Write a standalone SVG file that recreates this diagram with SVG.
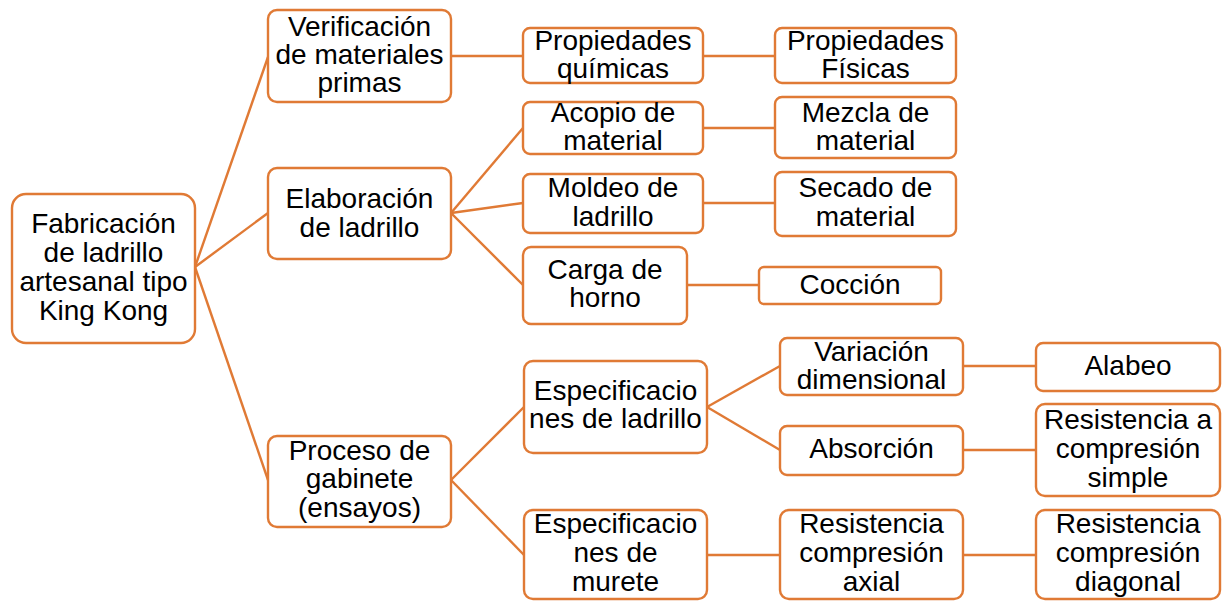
<svg xmlns="http://www.w3.org/2000/svg" width="1230" height="601" viewBox="0 0 1230 601">
<style>
.b{fill:#fff;stroke:#E07A35;stroke-width:2.4}
.c line{stroke:#E07A35;stroke-width:2.4}
text{font-family:"Liberation Sans",Arial,sans-serif;font-size:28px;fill:#000;text-anchor:middle}
</style>
<rect width="1230" height="601" fill="#fff"/>
<g class="c" id="connectors">
<line x1="195" y1="267" x2="268" y2="57"/>
<line x1="195" y1="267" x2="268" y2="213"/>
<line x1="195" y1="267" x2="268" y2="480"/>
<line x1="451" y1="56" x2="523" y2="56"/>
<line x1="703" y1="56" x2="775" y2="56"/>
<line x1="451" y1="213" x2="523" y2="128"/>
<line x1="451" y1="213" x2="523" y2="203"/>
<line x1="451" y1="213" x2="523" y2="285"/>
<line x1="703" y1="128" x2="775" y2="128"/>
<line x1="703" y1="203" x2="775" y2="203"/>
<line x1="687" y1="285" x2="759" y2="285"/>
<line x1="451" y1="480" x2="524" y2="407"/>
<line x1="451" y1="480" x2="524" y2="555"/>
<line x1="707" y1="407" x2="780" y2="366"/>
<line x1="707" y1="407" x2="780" y2="450"/>
<line x1="963" y1="366" x2="1036" y2="366"/>
<line x1="963" y1="450" x2="1036" y2="450"/>
<line x1="707" y1="555" x2="780" y2="555"/>
<line x1="963" y1="555" x2="1036" y2="555"/>
</g>
<g id="root"><rect class="b" x="12" y="194" width="183" height="149" rx="14"/>
<text x="103.5" y="233">Fabricación</text><text x="103.5" y="262">de ladrillo</text><text x="103.5" y="291">artesanal tipo</text><text x="103.5" y="320">King Kong</text></g>
<g id="verificacion"><rect class="b" x="268" y="10" width="183" height="92" rx="9"/>
<text x="359.5" y="36">Verificación</text><text x="359.5" y="64">de materiales</text><text x="359.5" y="92">primas</text></g>
<g id="elaboracion"><rect class="b" x="268" y="168" width="183" height="91" rx="9"/>
<text x="359.5" y="208">Elaboración</text><text x="359.5" y="237">de ladrillo</text></g>
<g id="proceso"><rect class="b" x="268" y="436" width="183" height="91" rx="9"/>
<text x="359.5" y="460">Proceso de</text><text x="359.5" y="488">gabinete</text><text x="359.5" y="517">(ensayos)</text></g>
<g id="prop-quimicas"><rect class="b" x="523" y="28" width="180" height="55" rx="7"/>
<text x="613" y="50">Propiedades</text><text x="613" y="78">químicas</text></g>
<g id="prop-fisicas"><rect class="b" x="775" y="28" width="181" height="55" rx="7"/>
<text x="865.5" y="50">Propiedades</text><text x="865.5" y="78">Físicas</text></g>
<g id="acopio"><rect class="b" x="523" y="102" width="180" height="52" rx="7"/>
<text x="613" y="122">Acopio de</text><text x="613" y="150">material</text></g>
<g id="mezcla"><rect class="b" x="775" y="97" width="181" height="61" rx="7"/>
<text x="865.5" y="122">Mezcla de</text><text x="865.5" y="150">material</text></g>
<g id="moldeo"><rect class="b" x="523" y="174" width="180" height="59" rx="7"/>
<text x="613" y="197">Moldeo de</text><text x="613" y="226">ladrillo</text></g>
<g id="secado"><rect class="b" x="775" y="172" width="181" height="64" rx="7"/>
<text x="865.5" y="197">Secado de</text><text x="865.5" y="226">material</text></g>
<g id="carga"><rect class="b" x="523" y="247" width="164" height="77" rx="8"/>
<text x="605" y="279">Carga de</text><text x="605" y="307">horno</text></g>
<g id="coccion"><rect class="b" x="759" y="267" width="182" height="37" rx="5"/>
<text x="850" y="294">Cocción</text></g>
<g id="esp-ladrillo"><rect class="b" x="524" y="361" width="183" height="92" rx="9"/>
<text x="615.5" y="400">Especificacio</text><text x="615.5" y="428">nes de ladrillo</text></g>
<g id="esp-murete"><rect class="b" x="524" y="510" width="183" height="89" rx="9"/>
<text x="615.5" y="533">Especificacio</text><text x="615.5" y="562">nes de</text><text x="615.5" y="591">murete</text></g>
<g id="variacion"><rect class="b" x="780" y="338" width="183" height="57" rx="7"/>
<text x="871.5" y="361">Variación</text><text x="871.5" y="389">dimensional</text></g>
<g id="absorcion"><rect class="b" x="780" y="426" width="183" height="49" rx="7"/>
<text x="871.5" y="458">Absorción</text></g>
<g id="alabeo"><rect class="b" x="1036" y="343" width="184" height="48" rx="7"/>
<text x="1128" y="375">Alabeo</text></g>
<g id="res-simple"><rect class="b" x="1036" y="404" width="184" height="92" rx="9"/>
<text x="1128" y="429">Resistencia a</text><text x="1128" y="458">compresión</text><text x="1128" y="487">simple</text></g>
<g id="res-axial"><rect class="b" x="780" y="510" width="183" height="89" rx="9"/>
<text x="871.5" y="533">Resistencia</text><text x="871.5" y="562">compresión</text><text x="871.5" y="591">axial</text></g>
<g id="res-diagonal"><rect class="b" x="1036" y="510" width="184" height="89" rx="9"/>
<text x="1128" y="533">Resistencia</text><text x="1128" y="562">compresión</text><text x="1128" y="591">diagonal</text></g>
</svg>
